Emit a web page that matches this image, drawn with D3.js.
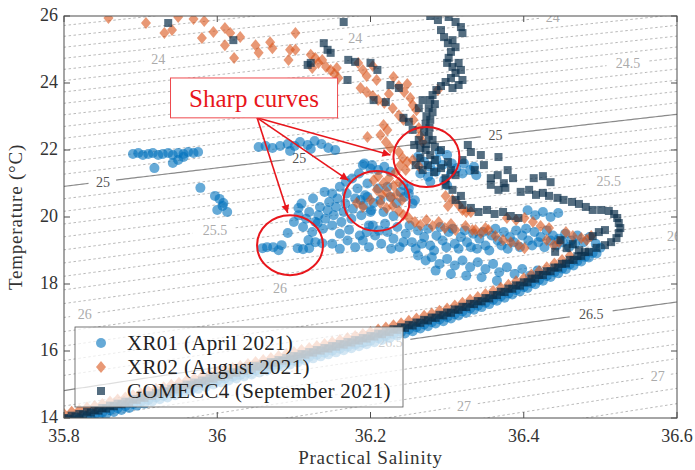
<!DOCTYPE html>
<html lang="en">
<head>
<meta charset="UTF-8">
<title>T-S diagram</title>
<script src="https://d3js.org/d3.v7.min.js"></script>
<style>
    body { margin: 0; background: #fff; }
    text { font-family: "Liberation Serif", "Times New Roman", serif; }
</style>
</head>
<body>
<svg id="chart"></svg>
<script>
const width = 695, height = 470;
const margin = {top: 16, right: 18, bottom: 52, left: 64};

// axis ticks
const xTicks = [35.8, 36, 36.2, 36.4, 36.6];
const yTicks = [14, 16, 18, 20, 22, 24, 26];

// isopycnals (sigma), dashed every 0.1, solid at 25 and 26.5
const dashedLevels = d3.range(233, 279).map(v => v / 10).filter(v => v !== 25 && v !== 26.5);
const solidLevels = [25, 26.5];
const dashedLabels = [
    {level: 24, s: 35.923}, {level: 24, s: 36.180}, {level: 24, s: 36.438},
    {level: 24.5, s: 36.536},
    {level: 25.5, s: 35.997}, {level: 25.5, s: 36.511},
    {level: 26, s: 35.827}, {level: 26, s: 36.082}, {level: 26, s: 36.596},
    {level: 27, s: 36.322}, {level: 27, s: 36.575}
];
const solidLabels = [
    {level: 25, s: 35.851}, {level: 25, s: 36.107}, {level: 25, s: 36.363},
    {level: 26.5, s: 36.226}, {level: 26.5, s: 36.488}
];

// XR01 (April 2021) - salinity, temperature
const xr01Upper = [
    [35.890,21.88],[35.897,21.91],[35.903,21.85],[35.910,21.88],[35.916,21.91],[35.923,21.85],[35.929,21.88],
    [35.936,21.91],[35.942,21.85],[35.949,21.91],[35.956,21.88],[35.962,21.94],[35.969,21.91],[35.975,21.94],
    [35.949,21.70],[35.942,21.61],[35.918,21.46],[35.956,21.79],[35.978,20.87],
    [35.997,20.63],[36.003,20.54],[36.008,20.42],[36.000,20.21],[36.013,20.15],[36.007,20.33],
    [36.054,22.09],[36.063,22.12],[36.072,22.06],[36.082,22.12],[36.092,22.18],[36.101,22.12],[36.108,22.24],
    [36.118,22.15],[36.127,22.27],[36.136,22.18],[36.145,22.06],[36.154,22.00],[36.095,21.97],[36.122,22.03]
];
const xr01Mid = [
    [36.059,19.07],[36.065,19.10],[36.073,19.10],[36.080,19.01],[36.084,19.16],[36.092,19.52],[36.105,19.07],
    [36.112,19.04],[36.120,19.07],[36.119,19.31],[36.128,19.25],[36.137,19.22],[36.131,19.82],[36.106,20.27],
    [36.100,19.85],[36.106,20.05],[36.112,19.70],[36.116,19.95],[36.120,20.15],[36.124,19.55],[36.128,19.85],
    [36.132,20.05],[36.134,20.30],[36.138,19.65],[36.141,19.95],[36.144,20.20],[36.146,20.45],[36.150,19.75],
    [36.152,20.05],[36.155,20.30],[36.157,20.55],[36.160,19.50],[36.162,19.85],[36.165,20.15],[36.167,20.40],
    [36.169,20.70],[36.172,19.62],[36.175,19.95],[36.177,20.25],[36.180,20.55],[36.183,20.85],[36.186,19.45],
    [36.188,20.05],[36.191,20.35],[36.193,20.65],[36.196,21.00],[36.198,19.75],[36.201,20.20],[36.168,21.05],
    [36.176,21.15],[36.185,21.30],[36.160,20.90],[36.150,20.70],[36.110,20.40],[36.125,20.55],[36.140,20.75],
    [36.192,21.60],[36.202,21.55],
    [36.187,20.51],[36.196,20.60],[36.204,20.42],[36.213,20.51],[36.226,20.60],[36.234,20.42],[36.239,20.75],
    [36.200,20.15],[36.217,20.15],[36.230,20.03],[36.210,20.85],[36.222,20.90],[36.244,20.60],[36.250,20.85],
    [36.255,20.40],[36.190,21.55],[36.200,21.45],[36.210,21.40],[36.218,21.50],[36.226,21.35],
    [36.243,20.95],[36.250,20.70],[36.258,20.50],
    [36.262,21.80],[36.270,21.65],[36.278,21.50],[36.286,21.70],[36.294,21.55],[36.300,21.85],[36.306,21.60],
    [36.265,21.30],[36.275,21.20],[36.285,21.35],[36.296,21.10],[36.305,21.30],[36.312,21.45],[36.320,21.30],
    [36.330,21.40],[36.338,21.25],[36.290,21.95],[36.278,21.05],[36.300,20.95],[36.322,21.60],[36.335,21.50]
];
const xr01Low = [
    [36.190,19.30],[36.198,19.10],[36.206,19.45],[36.214,19.20],[36.222,19.55],[36.230,19.35],[36.238,19.10],
    [36.246,19.50],[36.254,19.25],[36.262,19.60],[36.270,19.40],[36.278,19.15],[36.286,19.45],[36.294,19.30],
    [36.302,19.55],[36.310,19.20],[36.318,19.40],[36.326,19.25],[36.334,19.50],[36.342,19.35],[36.350,19.15],
    [36.358,19.45],[36.366,19.30],[36.374,19.55],[36.382,19.40],[36.390,19.60],[36.398,19.45],[36.406,19.30],
    [36.414,19.55],[36.422,19.40],[36.430,19.60],[36.438,19.45],[36.446,19.35],[36.454,19.50],[36.462,19.30],
    [36.470,19.45],[36.478,19.25],[36.486,19.40],[36.494,19.20],
    [36.195,19.55],[36.203,19.75],[36.211,19.60],[36.219,19.80],[36.227,19.05],[36.235,19.70],[36.243,19.25],
    [36.251,19.75],[36.259,19.05],[36.267,19.20],[36.275,19.65],[36.283,19.00],[36.291,19.70],[36.299,19.10],
    [36.307,19.65],[36.315,19.05],[36.323,19.60],[36.331,19.10],[36.339,19.05],[36.347,19.55],[36.355,19.00],
    [36.363,19.65],[36.371,19.15],[36.379,19.05],[36.387,19.25],[36.395,19.10],[36.403,19.65],[36.411,19.15],
    [36.419,19.25],[36.427,19.10],[36.435,19.30],[36.443,19.15],[36.451,19.25],[36.459,19.10],[36.467,19.20],
    [36.150,19.20],[36.160,19.05],[36.170,19.30],[36.180,19.10],
    [36.405,20.20],[36.415,20.05],[36.425,20.15],[36.435,20.00],[36.445,20.12],
    [36.262,18.85],[36.272,18.70],[36.280,18.80],[36.290,18.60],[36.300,18.75],[36.310,18.55],[36.320,18.70],
    [36.330,18.50],[36.340,18.65],[36.350,18.45],[36.360,18.60],[36.368,18.35],[36.378,18.50],[36.388,18.30],
    [36.398,18.45],[36.408,18.25],[36.418,18.40],[36.285,18.40],[36.305,18.30],[36.325,18.25],[36.345,18.20],
    [36.365,18.10]
];
const xr01Band = [
    [35.81,13.93],[35.82,13.98],[35.83,14.05],[35.84,14.10],[35.85,14.16],[35.86,14.23],[35.87,14.29],[35.88,14.35],
    [35.89,14.42],[35.90,14.48],[35.91,14.54],[35.92,14.61],[35.93,14.66],[35.94,14.73],[35.95,14.79],[35.96,14.86],
    [35.97,14.92],[35.98,14.98],[35.99,15.05],[36.00,15.11],[36.01,15.17],[36.02,15.23],[36.03,15.29],[36.04,15.35],
    [36.05,15.41],[36.06,15.47],[36.07,15.53],[36.08,15.59],[36.09,15.65],[36.10,15.71],[36.11,15.77],[36.12,15.83],
    [36.13,15.89],[36.14,15.95],[36.15,16.01],[36.16,16.07],[36.17,16.13],[36.18,16.19],[36.19,16.25],[36.20,16.31],
    [36.21,16.38],[36.22,16.44],[36.23,16.51],[36.24,16.57],[36.25,16.64],[36.26,16.71],[36.27,16.79],[36.28,16.86],
    [36.29,16.94],[36.30,17.01],[36.31,17.10],[36.32,17.18],[36.33,17.27],[36.34,17.35],[36.35,17.44],[36.36,17.53],
    [36.37,17.63],[36.38,17.72],[36.39,17.82],[36.40,17.91],[36.41,18.02],[36.42,18.13],[36.43,18.24],[36.44,18.35],
    [36.45,18.46],[36.46,18.58],[36.47,18.69],[36.48,18.81],[36.49,18.93],[36.50,19.08]
];
const xr01Band2 = [
    [35.835,13.99],[35.845,14.05],[35.855,14.11],[35.865,14.18],[35.875,14.24],[35.885,14.30],[35.895,14.37],
    [35.905,14.43],[35.915,14.49],[35.925,14.56],[35.935,14.61],[35.945,14.68],[35.955,14.74],[35.965,14.81],
    [35.975,14.87],[35.985,14.93],[35.995,15.00],[36.005,15.06],[36.015,15.12],[36.025,15.18],[36.035,15.24],
    [36.045,15.30],[36.055,15.36],[36.065,15.42],[36.075,15.48],[36.085,15.54],[36.095,15.60],[36.105,15.66],
    [36.115,15.72],[36.125,15.78],[36.135,15.84],[36.145,15.90],[36.155,15.96],[36.165,16.02],[36.175,16.08],
    [36.185,16.14],[36.195,16.20],[36.205,16.26],[36.215,16.33],[36.225,16.39],[36.235,16.46],[36.245,16.52],
    [36.255,16.59],[36.265,16.67],[36.275,16.74],[36.285,16.82],[36.295,16.89],[36.305,16.97],[36.315,17.06],
    [36.325,17.14],[36.335,17.23],[36.345,17.31],[36.355,17.40],[36.365,17.50],[36.375,17.59],[36.385,17.69],
    [36.395,17.78],[36.405,17.88],[36.415,17.99],[36.425,18.10],[36.435,18.21],[36.445,18.32],[36.455,18.44],
    [36.465,18.55],[36.475,18.67],[36.485,18.79],[36.495,18.91]
];

// XR02 (August 2021)
const xr02Upper = [
    [35.858,25.94],[35.907,25.79],[35.931,25.49],[35.941,25.58],[35.949,25.97],[35.969,25.91],[35.983,25.85],
    [35.980,25.34],[35.995,25.52],[36.010,25.13],[36.010,25.64],[36.017,25.49],[36.022,24.75],[36.030,25.37],
    [36.050,25.13],[36.054,24.90],[36.069,25.22],[36.072,25.04],[36.095,24.99],[36.102,24.99],[36.093,24.69],
    [36.102,25.49],[36.122,24.84],[36.128,24.75],[36.132,24.60],[36.137,24.69],[36.142,24.48],[36.124,24.45],
    [36.148,24.39],[36.153,24.27],[36.158,24.15],[36.156,24.45],[36.184,24.60],[36.190,24.39],[36.195,24.21],
    [36.203,24.51],[36.208,24.09],[36.187,23.85],[36.195,23.73],[36.203,23.61],[36.210,23.49],[36.218,23.40],
    [36.224,23.67],[36.230,24.18],[36.237,23.91],[36.244,23.73],[36.248,23.97],[36.252,23.55],[36.229,23.25],
    [36.237,23.04],[36.243,22.90],[36.217,22.75],[36.222,22.60],[36.255,23.34],[36.260,23.19],[36.256,22.90],
    [36.263,22.66],[36.265,22.42],[36.268,22.24],[36.288,23.79],[36.196,22.39],[36.213,22.45],[36.220,22.24],
    [36.226,22.06],[36.237,21.94],[36.242,21.76],[36.248,21.64],
    [36.239,21.55],[36.246,21.40],[36.255,21.70],[36.263,21.52],[36.233,21.34]
];
const xr02Mid = [
    [36.204,21.10],[36.210,21.22],[36.217,21.01],[36.224,21.16],[36.230,20.93],[36.237,21.04],[36.208,20.81],
    [36.215,20.66],[36.221,20.75],[36.227,20.57],[36.234,20.69],[36.241,20.51],[36.213,20.42],[36.221,20.27],
    [36.229,20.33],[36.237,20.18],[36.243,20.06],[36.182,20.42],[36.190,20.30],[36.200,20.51],[36.250,19.97],
    [36.258,19.85],[36.265,19.76],[36.273,19.91],[36.281,19.73],[36.289,19.85],[36.297,19.67],[36.305,19.79],
    [36.311,19.61],[36.324,19.73],[36.333,19.61],[36.344,19.52],[36.354,19.61],[36.298,20.63],[36.307,20.51],
    [36.315,20.36],[36.320,20.21],[36.325,20.15],[36.301,20.33],
    [36.363,19.43],[36.373,19.31],[36.383,19.25],[36.393,19.16],[36.401,19.07],[36.378,19.97],[36.390,19.91],
    [36.401,19.97],[36.412,19.85],[36.422,19.73],[36.433,19.67],[36.430,19.31],[36.439,19.16],[36.446,19.25],
    [36.455,19.55],[36.464,19.43],[36.475,19.37],[36.482,19.31],[36.488,19.43],[36.331,20.15],[36.337,19.61],
    [36.350,19.67]
];
const xr02Band = [
    [35.80,14.12],[35.81,14.19],[35.82,14.24],[35.83,14.31],[35.84,14.36],[35.85,14.42],[35.86,14.49],[35.87,14.55],
    [35.88,14.61],[35.89,14.68],[35.90,14.74],[35.91,14.80],[35.92,14.87],[35.93,14.92],[35.94,14.99],[35.95,15.05],
    [35.96,15.12],[35.97,15.18],[35.98,15.24],[35.99,15.31],[36.00,15.37],[36.01,15.43],[36.02,15.49],[36.03,15.55],
    [36.04,15.61],[36.05,15.67],[36.06,15.73],[36.07,15.79],[36.08,15.85],[36.09,15.91],[36.10,15.97],[36.11,16.03],
    [36.12,16.09],[36.13,16.15],[36.14,16.21],[36.15,16.27],[36.16,16.33],[36.17,16.39],[36.18,16.45],[36.19,16.51],
    [36.20,16.57],[36.21,16.64],[36.22,16.70],[36.23,16.77],[36.24,16.83],[36.25,16.90],[36.26,16.97],[36.27,17.05],
    [36.28,17.12],[36.29,17.20],[36.30,17.27],[36.31,17.36],[36.32,17.44],[36.33,17.53],[36.34,17.61],[36.35,17.70],
    [36.36,17.79],[36.37,17.89],[36.38,17.98],[36.39,18.08],[36.40,18.17],[36.41,18.28],[36.42,18.39],[36.43,18.50],
    [36.44,18.61],[36.45,18.72],[36.46,18.84]
];

// GOMECC4 (September 2021)
const gomeccUpper = [
    [35.936,25.79],[36.021,25.28],[36.165,25.82],[36.139,25.19],[36.144,24.99],[36.148,24.90],[36.118,24.54],
    [36.122,24.60],[36.170,24.09],[36.171,24.69],[36.180,24.63],[36.200,24.60],[36.209,24.39],[36.204,23.49],
    [36.220,23.43],[36.226,23.94],[36.237,23.85],[36.243,22.96],[36.250,22.84],[36.255,22.60],[36.263,22.30],
    [36.257,22.15],
    [36.278,26.00],[36.288,25.88],[36.302,25.97],[36.311,25.82],[36.318,25.67],[36.320,25.49],[36.292,25.58],
    [36.296,25.37],[36.301,25.19],[36.307,25.28],[36.311,25.07],[36.305,24.93],[36.302,24.75],[36.300,24.60],
    [36.307,24.48],[36.315,24.60],[36.318,24.39],[36.311,24.30],[36.305,24.15],[36.298,24.03],[36.292,23.91],
    [36.286,23.79],[36.281,23.64],[36.278,23.49],[36.284,23.37],[36.276,23.25],[36.281,23.13],[36.273,23.01],
    [36.278,22.90],[36.272,22.78],[36.277,22.66],[36.270,22.54],[36.276,22.42],[36.281,22.30],[36.273,22.18],
    [36.265,22.06],[36.284,22.09],[36.292,22.00],[36.320,24.09],[36.315,23.94],[36.307,23.85],[36.268,23.49],
    [36.263,23.25]
];
const gomeccMid = [
    [36.272,22.00],[36.278,21.85],[36.265,21.76],[36.284,21.70],[36.275,21.55],[36.292,21.46],[36.301,21.64],
    [36.305,21.40],[36.283,21.34],[36.268,21.40],[36.298,21.16],[36.311,21.25],[36.259,21.55],
    [36.327,22.15],[36.331,21.94],[36.344,21.85],[36.367,21.79],[36.320,21.70],[36.336,21.40],[36.348,21.55],
    [36.357,21.16],[36.366,21.25],[36.374,21.01],[36.379,21.40],[36.386,21.16],
    [36.396,20.75],[36.407,20.81],[36.416,20.66],[36.425,20.72],[36.433,20.63],[36.413,21.16],[36.425,21.22],
    [36.435,21.04],[36.444,20.57],[36.452,20.51],[36.463,20.45],[36.472,20.39],[36.481,20.30],[36.490,20.21],
    [36.501,20.21],[36.511,20.18],[36.518,20.09],[36.522,19.97],[36.524,19.82],[36.526,19.67],[36.524,19.52],
    [36.521,19.37],[36.514,19.25],[36.506,19.16],[36.498,19.55],[36.506,19.61],[36.490,19.43],
    [36.331,20.27],[36.341,20.15],[36.352,20.21],[36.362,20.09],[36.373,20.15],[36.383,20.03],[36.393,19.97],
    [36.320,20.36],[36.311,20.51],[36.448,19.31],[36.456,19.07],[36.464,19.19],[36.472,19.01],[36.441,18.96],
    [36.357,20.96],[36.367,20.81],[36.376,20.87],[36.298,20.96],[36.307,20.81],[36.318,20.63]
];
const gomeccBand = [
    [35.80,14.00],[35.81,14.07],[35.82,14.12],[35.83,14.19],[35.84,14.24],[35.85,14.30],[35.86,14.37],[35.87,14.43],
    [35.88,14.49],[35.89,14.56],[35.90,14.62],[35.91,14.68],[35.92,14.75],[35.93,14.80],[35.94,14.87],[35.95,14.93],
    [35.96,15.00],[35.97,15.06],[35.98,15.12],[35.99,15.19],[36.00,15.25],[36.01,15.31],[36.02,15.37],[36.03,15.43],
    [36.04,15.49],[36.05,15.55],[36.06,15.61],[36.07,15.67],[36.08,15.73],[36.09,15.79],[36.10,15.85],[36.11,15.91],
    [36.12,15.97],[36.13,16.03],[36.14,16.09],[36.15,16.15],[36.16,16.21],[36.17,16.27],[36.18,16.33],[36.19,16.39],
    [36.20,16.45],[36.21,16.52],[36.22,16.58],[36.23,16.65],[36.24,16.71],[36.25,16.78],[36.26,16.85],[36.27,16.93],
    [36.28,17.00],[36.29,17.08],[36.30,17.15],[36.31,17.24],[36.32,17.32],[36.33,17.41],[36.34,17.49],[36.35,17.58],
    [36.36,17.67],[36.37,17.77],[36.38,17.86],[36.39,17.96],[36.40,18.05],[36.41,18.16],[36.42,18.27],[36.43,18.38],
    [36.44,18.49],[36.45,18.60],[36.46,18.72],[36.47,18.83],[36.48,18.95]
];
const gomeccBand2 = [
    [35.805,13.98],[35.815,14.04],[35.825,14.10],[35.835,14.16],[35.845,14.22],[35.855,14.28],[35.865,14.35],
    [35.875,14.41],[35.885,14.47],[35.895,14.54],[35.905,14.60],[35.915,14.66],[35.925,14.73],[35.935,14.78],
    [35.945,14.85],[35.955,14.91],[35.965,14.98],[35.975,15.04],[35.985,15.10],[35.995,15.17],[36.005,15.23],
    [36.015,15.29],[36.025,15.35],[36.035,15.41],[36.045,15.47],[36.055,15.53],[36.065,15.59],[36.075,15.65],
    [36.085,15.71],[36.095,15.77],[36.105,15.83],[36.115,15.89],[36.125,15.95],[36.135,16.01],[36.145,16.07],
    [36.155,16.13],[36.165,16.19],[36.175,16.25],[36.185,16.31],[36.195,16.37],[36.205,16.43],[36.215,16.50],
    [36.225,16.56],[36.235,16.63],[36.245,16.69],[36.255,16.76],[36.265,16.84],[36.275,16.91],[36.285,16.99],
    [36.295,17.06],[36.305,17.14],[36.315,17.23],[36.325,17.31],[36.335,17.40],[36.345,17.48],[36.355,17.57],
    [36.365,17.67],[36.375,17.76],[36.385,17.86],[36.395,17.95],[36.405,18.05],[36.415,18.16],[36.425,18.27],
    [36.435,18.38],[36.445,18.49],[36.455,18.61],[36.465,18.72],[36.475,18.84],[36.485,18.96],[36.495,19.08]
];

const series = [
    {name: "XR01 (April 2021)", shape: "circle", color: "#0072BD", opacity: 0.6,
     data: xr01Upper.concat(xr01Mid, xr01Low, xr01Band2, xr01Band)},
    {name: "XR02 (August 2021)", shape: "diamond", color: "#D95319", opacity: 0.6,
     data: xr02Upper.concat(xr02Mid, xr02Band)},
    {name: "GOMECC4 (September 2021)", shape: "square", color: "#0b2f4a", opacity: 0.7,
     data: gomeccUpper.concat(gomeccMid, gomeccBand, gomeccBand2)}
];

// annotation (data units)
const noteBox = {s0: 35.939, t0: 24.15, s1: 36.157, t1: 22.96, text: "Sharp curves"};
const arrowStart = [36.052, 22.96];
const arrowEnds = [[36.226, 21.85], [36.171, 21.10], [36.092, 20.12]];
const rings = [[36.273, 21.79], [36.208, 20.48], [36.095, 19.16]];

// seawater density anomaly (EOS-80 form, salinity scaled to absolute)
function sigma(S, T) {
    const s = S * 35 / 35.16504;
    const T2 = T * T, T3 = T2 * T, T4 = T3 * T, T5 = T4 * T;
    const rw = 999.842594 + 6.793952e-2 * T - 9.095290e-3 * T2 + 1.001685e-4 * T3
        - 1.120083e-6 * T4 + 6.536332e-9 * T5;
    const A = 8.24493e-1 - 4.0899e-3 * T + 7.6438e-5 * T2 - 8.2467e-7 * T3 + 5.3875e-9 * T4;
    const B = -5.72466e-3 + 1.0227e-4 * T - 1.6546e-6 * T2;
    const C = 4.8314e-4;
    return rw + A * s + B * Math.pow(s, 1.5) + C * s * s - 1000;
}
function tempAt(S, level) {
    let lo = 4, hi = 40;
    for (let i = 0; i < 50; i++) {
        const mid = (lo + hi) / 2;
        if (sigma(S, mid) > level) lo = mid; else hi = mid;
    }
    return (lo + hi) / 2;
}

const svg = d3.select("#chart").attr("width", width).attr("height", height);
const x = d3.scaleLinear().domain([35.8, 36.6]).range([margin.left, width - margin.right]);
const y = d3.scaleLinear().domain([14, 26]).range([height - margin.bottom, margin.top]);

const defs = svg.append("defs");
defs.append("clipPath").attr("id", "plot-clip")
    .append("rect")
    .attr("x", x(35.8)).attr("y", y(26))
    .attr("width", x(36.6) - x(35.8)).attr("height", y(14) - y(26));
defs.append("marker")
    .attr("id", "arrow").attr("viewBox", "0 0 10 10")
    .attr("refX", 10).attr("refY", 5)
    .attr("markerWidth", 11).attr("markerHeight", 8)
    .attr("markerUnits", "userSpaceOnUse").attr("orient", "auto")
    .append("path").attr("d", "M0,0L10,5L0,10Z").attr("fill", "#e8161c");

const plot = svg.append("g").attr("clip-path", "url(#plot-clip)");

// contour lines
const sGrid = d3.range(35.78, 36.62, 0.004);
const line = d3.line().defined(d => !d.gap).x(d => x(d[0])).y(d => y(d[1]));

function contour(level, labels) {
    const gaps = labels.filter(l => l.level === level)
        .map(l => ({cx: x(l.s), half: String(l.level).length * 3.8 + 4}));
    const pts = sGrid.map(s => {
        const p = [s, tempAt(s, level)];
        p.gap = gaps.some(g => Math.abs(x(s) - g.cx) < g.half);
        return p;
    });
    return plot.append("path").datum(pts).attr("d", line).attr("fill", "none");
}

dashedLevels.forEach(l => contour(l, dashedLabels)
    .attr("stroke", "#a6a6a6").attr("stroke-width", 0.8).attr("stroke-dasharray", "2.5,2.5"));
solidLevels.forEach(l => contour(l, solidLabels)
    .attr("stroke", "#8a8a8a").attr("stroke-width", 1.2));

function labelText(labels, color) {
    plot.selectAll(null).data(labels).enter().append("text")
        .attr("x", d => x(d.s))
        .attr("y", d => y(tempAt(d.s, d.level)))
        .attr("text-anchor", "middle")
        .attr("dy", "0.35em")
        .attr("font-size", 14)
        .attr("fill", color)
        .text(d => d.level);
}
labelText(dashedLabels, "#ababab");
labelText(solidLabels, "#555");

// markers
function addMarker(sel, shape) {
    if (shape === "circle") return sel.append("circle").attr("r", 5);
    if (shape === "diamond") return sel.append("path").attr("d", "M0,-6L5,0L0,6L-5,0Z");
    return sel.append("rect").attr("x", -4).attr("y", -4).attr("width", 8).attr("height", 8);
}
series.forEach(sr => {
    const g = plot.append("g");
    const pts = g.selectAll(null).data(sr.data).enter().append("g")
        .attr("transform", d => `translate(${x(d[0])},${y(d[1])})`);
    addMarker(pts, sr.shape).attr("fill", sr.color).attr("fill-opacity", sr.opacity);
});

// frame and ticks
const x0 = x(35.8), x1 = x(36.6), y0 = y(14), y1 = y(26);
svg.append("rect").attr("x", x0).attr("y", y1).attr("width", x1 - x0).attr("height", y0 - y1)
    .attr("fill", "none").attr("stroke", "#4d4d4d").attr("stroke-width", 1);
const tk = 6;
xTicks.forEach(v => {
    svg.append("line").attr("x1", x(v)).attr("x2", x(v)).attr("y1", y0).attr("y2", y0 - tk).attr("stroke", "#4d4d4d");
    svg.append("line").attr("x1", x(v)).attr("x2", x(v)).attr("y1", y1).attr("y2", y1 + tk).attr("stroke", "#4d4d4d");
    svg.append("text").attr("x", x(v)).attr("y", y0 + 24).attr("text-anchor", "middle")
        .attr("font-size", 18).attr("fill", "#333").text(v);
});
yTicks.forEach(v => {
    svg.append("line").attr("x1", x0).attr("x2", x0 + tk).attr("y1", y(v)).attr("y2", y(v)).attr("stroke", "#4d4d4d");
    svg.append("line").attr("x1", x1).attr("x2", x1 - tk).attr("y1", y(v)).attr("y2", y(v)).attr("stroke", "#4d4d4d");
    svg.append("text").attr("x", x0 - 6).attr("y", y(v)).attr("dy", "0.3em").attr("text-anchor", "end")
        .attr("font-size", 18).attr("fill", "#333").text(v);
});

svg.append("text").attr("x", (x0 + x1) / 2).attr("y", 464).attr("text-anchor", "middle")
    .attr("font-size", 19).attr("letter-spacing", 0.8).attr("fill", "#333").text("Practical Salinity");
svg.append("text").attr("transform", `translate(22,${(y0 + y1) / 2}) rotate(-90)`)
    .attr("text-anchor", "middle").attr("font-size", 19).attr("letter-spacing", 0.8)
    .attr("fill", "#333").text("Temperature (°C)");

// annotation
const note = svg.append("g");
note.selectAll(null).data(arrowEnds).enter().append("line")
    .attr("x1", x(arrowStart[0])).attr("y1", y(arrowStart[1]))
    .attr("x2", d => x(d[0])).attr("y2", d => y(d[1]))
    .attr("stroke", "#e8161c").attr("stroke-width", 1.6).attr("marker-end", "url(#arrow)");
note.selectAll(null).data(rings).enter().append("ellipse")
    .attr("cx", d => x(d[0])).attr("cy", d => y(d[1])).attr("rx", 33).attr("ry", 30)
    .attr("fill", "none").attr("stroke", "#e8161c").attr("stroke-width", 2);
note.append("rect")
    .attr("x", x(noteBox.s0)).attr("y", y(noteBox.t0))
    .attr("width", x(noteBox.s1) - x(noteBox.s0)).attr("height", y(noteBox.t1) - y(noteBox.t0))
    .attr("fill", "#fff").attr("stroke", "#ee4a4e").attr("stroke-width", 1);
note.append("text")
    .attr("x", (x(noteBox.s0) + x(noteBox.s1)) / 2).attr("y", (y(noteBox.t0) + y(noteBox.t1)) / 2)
    .attr("dy", "0.35em").attr("text-anchor", "middle").attr("font-size", 25)
    .attr("fill", "#e8161c").text(noteBox.text);

// legend
const legend = svg.append("g").attr("transform", "translate(75,327)");
legend.append("rect").attr("width", 328).attr("height", 80)
    .attr("fill", "#fff").attr("fill-opacity", 0.72)
    .attr("stroke", "#555").attr("stroke-width", 0.8);
series.forEach((sr, i) => {
    const row = legend.append("g").attr("transform", `translate(26,${16 + i * 24})`);
    addMarker(row, sr.shape).attr("fill", sr.color).attr("fill-opacity", sr.opacity);
    row.append("text").attr("x", 26).attr("dy", "0.35em").attr("font-size", 21)
        .attr("letter-spacing", 0.3).attr("fill", "#222").text(sr.name);
});
</script>
</body>
</html>
